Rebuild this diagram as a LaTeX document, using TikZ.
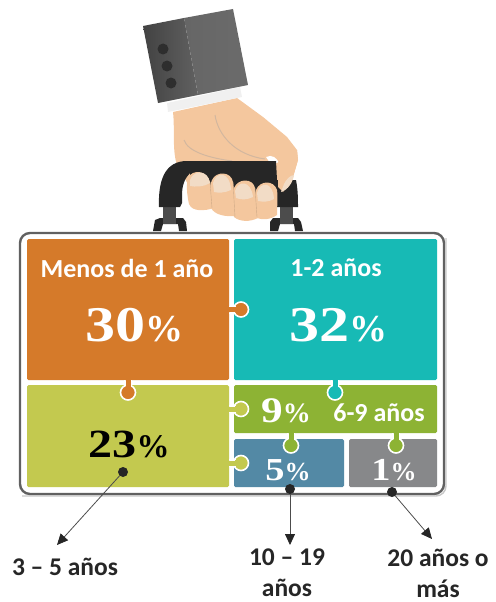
\documentclass[tikz,border=0pt]{standalone}
\usepackage{fontspec}
\usetikzlibrary{arrows.meta}
\setmainfont{Carlito}
\newfontfamily\numfont[FakeStretch=1.2]{Liberation Serif}
\newfontfamily\pctfont{Liberation Serif}
\newcommand{\pctsym}[1]{{\pctfont\fontsize{#1}{#1}\selectfont\%}}
\definecolor{corange}{HTML}{D57A2A}
\definecolor{cteal}{HTML}{17BAB5}
\definecolor{colive}{HTML}{C3C94F}
\definecolor{cgreen}{HTML}{8DB334}
\definecolor{cblue}{HTML}{5389A5}
\definecolor{cgray}{HTML}{87888A}
\definecolor{cskin}{HTML}{F4C79E}
\definecolor{cnail}{HTML}{F2DCC6}
\definecolor{cink}{HTML}{262626}
\tikzset{
  x=1pt,y=-1pt,
  panel/.style={draw=none,rounded corners=1.5pt},
  tab/.style={draw=white,line width=1.6pt},
  lab/.style={text=white,font=\bfseries\fontsize{26}{30}\selectfont,inner sep=0pt},
  bignum/.style={text=white,font=\numfont\bfseries\fontsize{50}{52}\selectfont,inner sep=0pt},
  midnum/.style={text=white,font=\numfont\bfseries\fontsize{36}{38}\selectfont,inner sep=0pt},
  smallnum/.style={text=white,font=\numfont\bfseries\fontsize{32}{34}\selectfont,inner sep=0pt},
  darknum/.style={text=black,font=\numfont\bfseries\fontsize{40}{42}\selectfont,inner sep=0pt},
  outer/.style={text=cink,font=\bfseries\fontsize{25.5}{31}\selectfont,align=center,inner sep=0pt},
  dot/.style={circle,fill=cink,inner sep=0pt,minimum size=10pt},
  leader/.style={draw=black!70,line width=0.8pt,-{Stealth[length=11pt,width=10pt,inset=0pt,color=cink]}},
}
\begin{document}
\begin{tikzpicture}
\useasboundingbox (0,0) rectangle (495,602);
% palm
\fill[cskin] (173,112) -- (237,98) -- (263,117) -- (287,137) -- (297,150)
  -- (298,160) -- (293,177) -- (283,192) -- (200,205) -- (177,165)
  .. controls (172,150) and (175,130) .. (173,112) -- cycle;
\draw[color=cskin!80!black!75,line width=1pt] (215,115) .. controls (218,135) and (235,155) .. (265,159);
\draw[color=cskin!80!black!75,line width=1pt] (184,140) .. controls (188,152) and (210,158) .. (232,161);
\fill[white] (266,157) .. controls (272,154) and (277,158) .. (279,163) -- (270,163) -- cycle;
% feet
\fill[cink] (153,231) -- (155,220) -- (160,218) -- (183,218) -- (186,222) -- (187,231) -- (179,231) -- (178,224) -- (163,224) -- (161,231) -- cycle;
\fill[cink] (270,231) -- (270,222) -- (273,218) -- (298,218) -- (301,222) -- (303,231) -- (295,231) -- (294,224) -- (280,224) -- (278,231) -- cycle;
\fill[black!70] (163,207) rectangle (176,224);
\fill[black!70] (280,207) rectangle (293,224);
% handle
\fill[cink] (159,207) .. controls (158,180) and (165,161) .. (187,161) -- (276,161)
  -- (277,180) -- (296,180) .. controls (298,190) and (298,200) .. (298,207)
  -- (277,207) -- (277,200) -- (190,200) -- (190,173)
  .. controls (185,178) and (182,185) .. (182,195) -- (182,203) -- (180,207) -- cycle;
% thumb root
\fill[cskin] (277,163) -- (297,150) -- (298,160) -- (293,177) -- (283,192) -- (278,187) -- (278,178) -- cycle;
% fingers
\fill[cskin] (188,178) .. controls (192,169) and (207,170) .. (210,182) -- (214,208) .. controls (205,211) and (192,212) .. (189,204) .. controls (187,195) and (186,185) .. (188,178) -- cycle;
\fill[cskin] (212,180) .. controls (216,171) and (231,171) .. (233,182) -- (237,216) .. controls (225,217) and (215,215) .. (211,208) .. controls (209,195) and (209,187) .. (212,180) -- cycle;
\fill[cskin] (234,188) .. controls (238,178) and (253,178) .. (255,188) -- (258,218) .. controls (250,222) and (240,222) .. (234,217) .. controls (232,205) and (232,195) .. (234,188) -- cycle;
\fill[cskin] (256,190) .. controls (260,180) and (274,180) .. (277,190) .. controls (278,197) and (277,207) .. (277,215) .. controls (270,220) and (262,220) .. (257,218) .. controls (254,207) and (254,197) .. (256,190) -- cycle;
\draw[cskin!85!black,line width=0.4pt] (210,182) -- (212,208) (233,182) -- (235,217) (255,188) -- (257,217);
\fill[cnail] (190,180) .. controls (194,169) and (208,170) .. (210,183) .. controls (204,187) and (195,187) .. (190,186) -- cycle;
\fill[cnail] (213,183) .. controls (216,171) and (230,171) .. (231,190) .. controls (225,193) and (218,193) .. (214,192) -- cycle;
\fill[cnail] (235,191) .. controls (238,180) and (251,180) .. (253,197) .. controls (247,200) and (241,200) .. (236,198) -- cycle;
\fill[cnail] (257,193) .. controls (260,181) and (273,181) .. (274,199) .. controls (269,202) and (263,202) .. (258,201) -- cycle;
\fill[cnail] (284,184) .. controls (286,180) and (290,175) .. (294,175) .. controls (293,182) and (288,190) .. (281,192) -- cycle;
% cuff and sleeve
\fill[black!6] (167,103) -- (240,87) -- (242,97) -- (168,112) -- cycle;
\shade[left color=black!74,right color=black!62] (143,26) -- (184,18) -- (198,95) -- (158,103) -- cycle;
\shade[left color=black!60,right color=black!58] (184,18) -- (233,9) -- (248,85) -- (198,95) -- cycle;
\fill[black!82] (163,49) circle (5.5pt) (167,66) circle (5.5pt) (171,83) circle (5.5pt);
% case
\draw[black!22,line width=1.4pt,rounded corners=10pt] (22,496) -- (446,496) -- (446,238);
\draw[draw=black!62,line width=2.4pt,fill=white,rounded corners=10pt] (20,233) rectangle (444,494);
% panels
\fill[panel,fill=corange] (27,239) rectangle (229,380);
\fill[panel,fill=cteal] (234,239) rectangle (437,380);
\fill[panel,fill=colive] (27,385) rectangle (229,487);
\fill[panel,fill=cgreen] (234,385) rectangle (437,433);
\fill[panel,fill=cblue] (234,439) rectangle (344,487);
\fill[panel,fill=cgray] (349,439) rectangle (437,487);
% tabs
\draw[tab,fill=corange] (241,309.500) circle (7.5pt);
\fill[corange] (226,307) rectangle (236,312);
\draw[white,line width=1pt] (229,306) -- (236,306) (229,313) -- (236,313);
\draw[tab,fill=corange] (128,392.500) circle (7.5pt);
\fill[corange] (125.5,378) rectangle (130.5,388);
\draw[white,line width=1pt] (124.5,380) -- (124.5,386) (131.5,380) -- (131.5,386);
\draw[tab,fill=cteal] (335,392.500) circle (7.5pt);
\fill[cteal] (332.5,378) rectangle (337.5,388);
\draw[white,line width=1pt] (331.5,380) -- (331.5,386) (338.5,380) -- (338.5,386);
\draw[tab,fill=colive] (241,409) circle (7.5pt);
\fill[colive] (226,406.5) rectangle (236,411.5);
\draw[white,line width=1pt] (229,405.5) -- (236,405.5) (229,412.5) -- (236,412.5);
\draw[tab,fill=colive] (241,463) circle (7.5pt);
\fill[colive] (226,460.5) rectangle (236,465.5);
\draw[white,line width=1pt] (229,459.5) -- (236,459.5) (229,466.5) -- (236,466.5);
\draw[tab,fill=cgreen] (291,445.500) circle (7.5pt);
\fill[cgreen] (288.5,431) rectangle (293.5,441);
\draw[white,line width=1pt] (287.5,433) -- (287.5,439) (294.5,433) -- (294.5,439);
\draw[tab,fill=cgreen] (396,445.500) circle (7.5pt);
\fill[cgreen] (393.5,431) rectangle (398.5,441);
\draw[white,line width=1pt] (392.5,433) -- (392.5,439) (399.5,433) -- (399.5,439);
% labels
\node[lab] (l1) at (127,268) {Menos de 1 año};
\node[bignum] (n1) at (134,325) {30\pctsym{38}};
\node[lab] (l2) at (336,268) {1-2 años};
\node[bignum] (n2) at (338,325) {32\pctsym{38}};
\node[lab] (l3) at (379,413) {6-9 años};
\node[midnum] (n3) at (286,411) {9\pctsym{28}};
\node[darknum] (n4) at (129,444) {23\pctsym{33}};
\node[smallnum] (n5) at (288,470) {5\pctsym{26}};
\node[smallnum] (n6) at (394,470) {1\pctsym{26}};
% dots and leaders
\node[dot] (d1) at (123,472) {};
\node[dot] (d2) at (290,489) {};
\node[dot] (d3) at (392,492) {};
\coordinate (e1) at (57,545);
\coordinate (e2) at (290,545);
\coordinate (e3) at (432,539);
\draw[leader] (d1) -- (e1);
\draw[leader] (d2) -- (e2);
\draw[leader] (d3) -- (e3);
\node[outer] (t1) at (65,567) {3 – 5 años};
\node[outer] (t2) at (287,573) {10 – 19\\años};
\node[outer] (t3) at (438,573) {20 años o\\más};
\end{tikzpicture}
\end{document}
